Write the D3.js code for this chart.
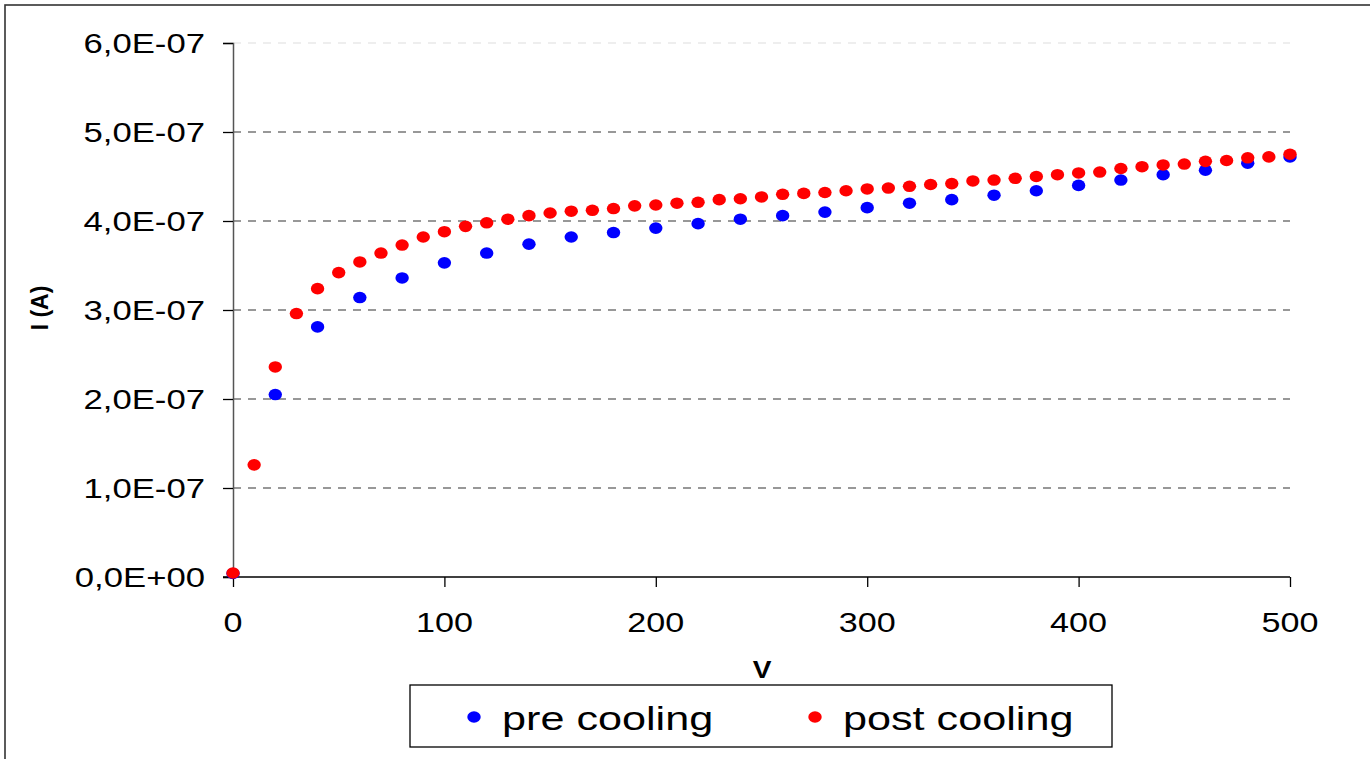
<!DOCTYPE html>
<html><head><meta charset="utf-8">
<script src="https://cdn.jsdelivr.net/npm/d3@7"></script>
<style>
html,body{margin:0;padding:0;background:#fff;}
svg{display:block;}
text{font-family:"Liberation Sans",Arial,sans-serif;fill:#000;}
</style></head>
<body>
<script>
// ---- data ----
const preV   = [0,20,40,60,80,100,120,140,160,180,200,220,240,260,280,300,320,340,360,380,400,420,440,460,480,500];
const preI   = [0.04,2.05,2.81,3.14,3.36,3.53,3.64,3.74,3.82,3.87,3.92,3.97,4.02,4.06,4.10,4.15,4.20,4.24,4.29,4.34,4.40,4.46,4.52,4.57,4.65,4.72].map(d=>d*1e-7);
const postV  = [0,10,20,30,40,50,60,70,80,90,100,110,120,130,140,150,160,170,180,190,200,210,220,230,240,250,260,270,280,290,300,310,320,330,340,350,360,370,380,390,400,410,420,430,440,450,460,470,480,490,500];
const postI  = [0.045,1.26,2.36,2.96,3.24,3.42,3.54,3.64,3.73,3.82,3.88,3.94,3.98,4.02,4.06,4.09,4.11,4.12,4.14,4.17,4.18,4.20,4.21,4.24,4.25,4.27,4.30,4.31,4.32,4.34,4.36,4.37,4.39,4.41,4.42,4.45,4.46,4.48,4.50,4.52,4.54,4.55,4.59,4.61,4.63,4.64,4.67,4.68,4.71,4.72,4.75].map(d=>d*1e-7);
const xTicks = [0,100,200,300,400,500];
const yTicks = [0,1e-7,2e-7,3e-7,4e-7,5e-7,6e-7];
const yTickLabels = ["0,0E+00","1,0E-07","2,0E-07","3,0E-07","4,0E-07","5,0E-07","6,0E-07"];
const seriesNames = ["pre cooling","post cooling"];
const seriesColors = ["#0000ff","#ff0000"];

const W=1370,H=759, SX=1.22;
const svg=d3.select("body").append("svg").attr("width",W).attr("height",H);

// outer frame
svg.append("rect").attr("x",5).attr("y",5).attr("width",1400).attr("height",800)
  .attr("fill","#fff").attr("stroke","#333").attr("stroke-width",1.6);

const x=d3.scaleLinear().domain([0,500]).range([233,1290]);
const y=d3.scaleLinear().domain([0,6e-7]).range([577,43]);

function stext(g,tx,ty,str,size,anchor,weight,sx){
  return g.append("text").attr("transform",`translate(${tx},${ty}) scale(${sx||SX},1)`)
    .attr("text-anchor",anchor).attr("font-size",size).attr("font-weight",weight||"normal").text(str);
}

// gridlines
svg.append("g").selectAll("line").data(yTicks.slice(1)).join("line")
  .attr("x1",x(0)).attr("x2",x(500)).attr("y1",d=>y(d)).attr("y2",d=>y(d))
  .attr("stroke",(d,i)=>i===yTicks.length-2?"#ddd":"#333").attr("stroke-width",1.2)
  .attr("stroke-dasharray","8,7");

// y axis
const yAx=d3.axisLeft(y).tickValues(yTicks).tickSize(10).tickFormat("");
const gy=svg.append("g").attr("transform",`translate(${x(0)},0)`).call(yAx);
gy.select(".domain").attr("stroke","#555").attr("stroke-width",1.5);
gy.selectAll(".tick line").attr("stroke","#000").attr("stroke-width",1.3);
yTicks.forEach((t,i)=>stext(svg,205,y(t)+10,yTickLabels[i],28,"end",null,1.24));

// x axis
const xAx=d3.axisBottom(x).tickValues(xTicks).tickSize(10).tickFormat("");
const gx=svg.append("g").attr("transform",`translate(0,${y(0)})`).call(xAx);
gx.select(".domain").attr("stroke","#000").attr("stroke-width",1.3).attr("d",`M${x(0)-10},0H${x(500)}`);
gx.selectAll(".tick line").attr("stroke","#000").attr("stroke-width",1.3);
xTicks.forEach(t=>stext(svg,x(t),632,String(t),28,"middle"));

// axis titles
stext(svg,762,678,"V",23,"middle","bold");
svg.append("text").attr("transform","translate(48,308) rotate(-90)").attr("text-anchor","middle")
  .attr("font-size",23).attr("font-weight","bold").text("I (A)");

// points
const pre=preV.map((v,i)=>({v,i:preI[i]}));
const post=postV.map((v,i)=>({v,i:postI[i]}));
svg.append("g").selectAll("ellipse").data(pre).join("ellipse")
  .attr("cx",d=>x(d.v)).attr("cy",d=>y(d.i)).attr("rx",6.7).attr("ry",5.8).attr("fill",seriesColors[0]);
svg.append("g").selectAll("ellipse").data(post).join("ellipse")
  .attr("cx",d=>x(d.v)).attr("cy",d=>y(d.i)).attr("rx",6.7).attr("ry",5.8).attr("fill",seriesColors[1]);

// legend
const lg=svg.append("g");
lg.append("rect").attr("x",410).attr("y",685).attr("width",702).attr("height",62)
  .attr("fill","#fff").attr("stroke","#000").attr("stroke-width",1.3);
const legX=[474,815];
seriesNames.forEach((n,i)=>{
  lg.append("ellipse").attr("cx",legX[i]).attr("cy",717).attr("rx",6.7).attr("ry",5.8).attr("fill",seriesColors[i]);
  stext(lg,legX[i]+28,730,n,34,"start",null,1.27);
});
</script>
</body></html>
